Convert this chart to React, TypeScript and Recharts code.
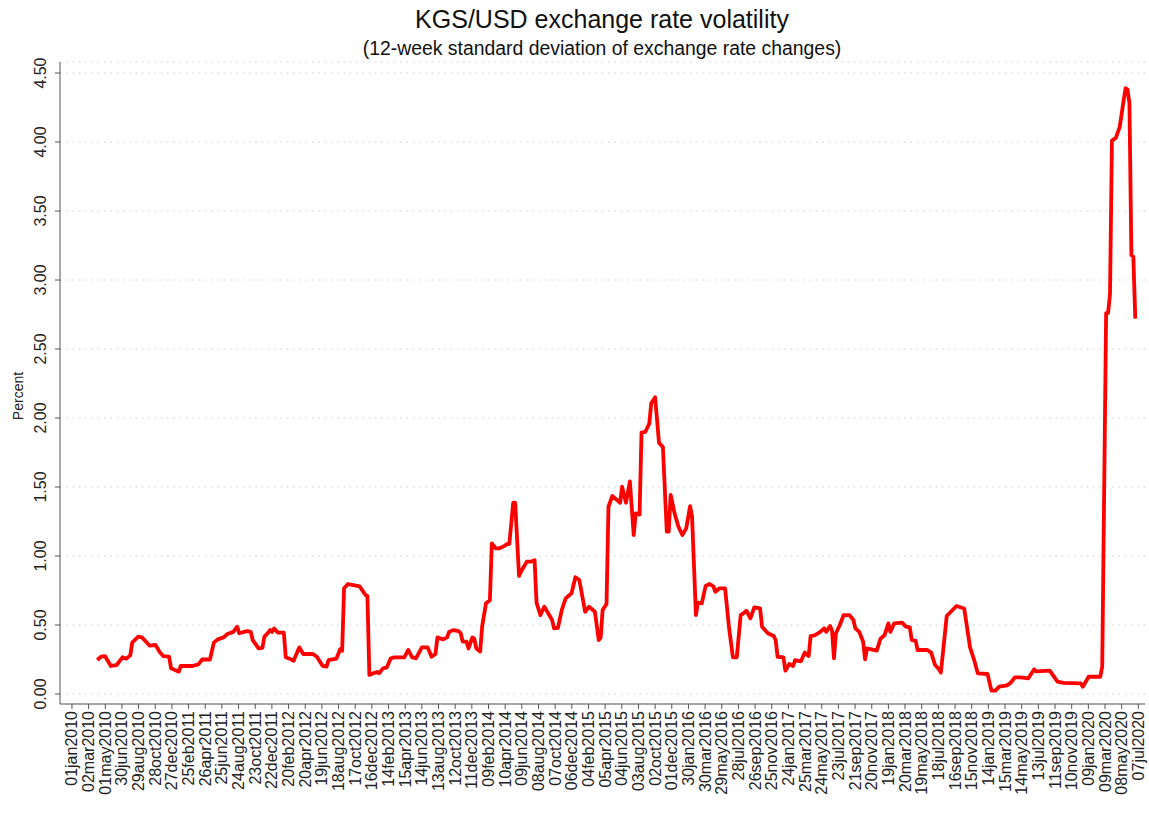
import { CartesianGrid, Line, LineChart, XAxis, YAxis } from 'recharts';

const W = 1149;
const H = 813;
const FONT = '"Liberation Sans", Arial, sans-serif';
const AXIS = '#555555';
const GRID = '#cfcfcf';
const RED = '#ff0000';

const TITLE = 'KGS/USD exchange rate volatility';
const SUBTITLE = '(12-week standard deviation of exchange rate changes)';
const Y_LABEL = 'Percent';

// observation dates, as weeks since 01jan2010
const weeks = [
  13, 15, 17, 20, 23, 26, 28, 30, 31, 34,
  36, 38, 40, 43, 45, 47, 50, 51, 55, 56,
  62, 65, 67, 71, 73, 75, 78, 80, 83, 85,
  86, 90, 92, 93, 96, 98, 99, 100, 102, 103,
  104, 106, 109, 110, 112, 114, 116, 117, 119, 124,
  126, 129, 131, 132, 136, 138, 139, 140, 142, 146,
  148, 151, 152, 153, 155, 157, 158, 160, 162, 164,
  166, 171, 173, 175, 177, 180, 183, 185, 187, 188,
  191, 193, 194, 196, 199, 200, 201, 203, 204, 206,
  207, 208, 210, 211, 213, 215, 216, 218, 220, 222,
  224, 225, 227, 228, 230, 231, 234, 236, 238, 239,
  241, 243, 245, 247, 248, 250, 252, 254, 257, 259,
  261, 264, 266, 269, 271, 272, 273, 275, 276, 278,
  280, 282, 283, 285, 287, 289, 290, 292, 293, 295,
  297, 298, 300, 302, 304, 306, 307, 308, 310, 312,
  314, 316, 318, 319, 321, 322, 324, 326, 328, 330,
  331, 333, 336, 338, 340, 342, 344, 345, 347, 349,
  351, 354, 355, 358, 361, 362, 363, 366, 367, 369,
  371, 372, 375, 377, 379, 380, 382, 385, 387, 388,
  390, 391, 392, 393, 395, 397, 400, 402, 403, 405,
  407, 408, 409, 414, 416, 418, 420, 421, 423, 427,
  429, 431, 432, 434, 435, 440, 442, 444, 446, 447,
  450, 453, 455, 459, 462, 464, 466, 471, 473, 475,
  477, 481, 483, 485, 488, 492, 495, 496, 503, 507,
  510, 519, 520, 523, 529, 530, 532, 533, 534, 535,
  537, 539, 541, 542, 543, 544, 545, 546, 547,
];

// 12-week standard deviation, percent
const volatility = [
  0.246, 0.27, 0.275, 0.203, 0.21, 0.266, 0.256, 0.28, 0.372, 0.415,
  0.41, 0.38, 0.35, 0.355, 0.307, 0.275, 0.27, 0.186, 0.162, 0.203,
  0.203, 0.215, 0.25, 0.25, 0.372, 0.396, 0.41, 0.435, 0.45, 0.488,
  0.44, 0.455, 0.45, 0.39, 0.33, 0.335, 0.415, 0.43, 0.463, 0.45,
  0.475, 0.445, 0.445, 0.266, 0.256, 0.24, 0.307, 0.338, 0.29, 0.29,
  0.27, 0.203, 0.198, 0.246, 0.256, 0.324, 0.314, 0.766, 0.797, 0.785,
  0.78, 0.717, 0.71, 0.138, 0.15, 0.16, 0.15, 0.186, 0.193, 0.259,
  0.266, 0.266, 0.319, 0.266, 0.259, 0.338, 0.338, 0.27, 0.29, 0.41,
  0.396, 0.41, 0.45, 0.463, 0.455, 0.44, 0.38, 0.38, 0.33, 0.41,
  0.40, 0.33, 0.307, 0.488, 0.657, 0.68, 1.092, 1.056, 1.056, 1.07,
  1.087, 1.087, 1.386, 1.386, 0.855, 0.886, 0.959, 0.959, 0.97, 0.662,
  0.572, 0.633, 0.585, 0.536, 0.476, 0.48, 0.609, 0.693, 0.73, 0.846,
  0.826, 0.596, 0.633, 0.596, 0.391, 0.41, 0.609, 0.652, 1.357, 1.435,
  1.41, 1.386, 1.502, 1.386, 1.54, 1.152, 1.309, 1.30, 1.894, 1.90,
  1.96, 2.106, 2.15, 1.82, 1.79, 1.176, 1.176, 1.442, 1.309, 1.212,
  1.152, 1.20, 1.362, 1.285, 0.572, 0.662, 0.657, 0.783, 0.797, 0.78,
  0.741, 0.765, 0.765, 0.483, 0.266, 0.266, 0.572, 0.58, 0.604, 0.548,
  0.628, 0.62, 0.488, 0.44, 0.42, 0.391, 0.27, 0.266, 0.169, 0.217,
  0.203, 0.246, 0.237, 0.30, 0.275, 0.42, 0.425, 0.451, 0.476, 0.45,
  0.493, 0.46, 0.259, 0.44, 0.50, 0.572, 0.572, 0.536, 0.476, 0.45,
  0.379, 0.251, 0.331, 0.314, 0.403, 0.425, 0.512, 0.45, 0.512, 0.517,
  0.488, 0.483, 0.391, 0.387, 0.319, 0.319, 0.30, 0.21, 0.179, 0.155,
  0.565, 0.609, 0.638, 0.62, 0.338, 0.251, 0.15, 0.145, 0.024, 0.024,
  0.053, 0.063, 0.082, 0.121, 0.121, 0.114, 0.179, 0.164, 0.169, 0.089,
  0.08, 0.077, 0.053, 0.125, 0.125, 0.198, 2.76, 2.76, 2.90, 4.01,
  4.03, 4.11, 4.30, 4.39, 4.38, 4.28, 3.18, 3.17, 2.72,
];

// one tick every 60 days from 01jan2010
const tickLabels = [
  '01jan2010', '02mar2010', '01may2010', '30jun2010', '29aug2010', '28oct2010', '27dec2010',
  '25feb2011', '26apr2011', '25jun2011', '24aug2011', '23oct2011', '22dec2011',
  '20feb2012', '20apr2012', '19jun2012', '18aug2012', '17oct2012', '16dec2012',
  '14feb2013', '15apr2013', '14jun2013', '13aug2013', '12oct2013', '11dec2013',
  '09feb2014', '10apr2014', '09jun2014', '08aug2014', '07oct2014', '06dec2014',
  '04feb2015', '05apr2015', '04jun2015', '03aug2015', '02oct2015', '01dec2015',
  '30jan2016', '30mar2016', '29may2016', '28jul2016', '26sep2016', '25nov2016',
  '24jan2017', '25mar2017', '24may2017', '23jul2017', '21sep2017', '20nov2017',
  '19jan2018', '20mar2018', '19may2018', '18jul2018', '16sep2018', '15nov2018',
  '14jan2019', '15mar2019', '14may2019', '13jul2019', '11sep2019', '10nov2019',
  '09jan2020', '09mar2020', '08may2020', '07jul2020',
];
const TICK_STEP_DAYS = 60;

const yTicks = [0, 0.5, 1, 1.5, 2, 2.5, 3, 3.5, 4, 4.5];

const data = weeks.map((w, i) => ({ day: w * 7, value: volatility[i] }));
const xTicks = tickLabels.map((_, i) => i * TICK_STEP_DAYS);

function XTick({ x, y, payload }: any) {
  const label = tickLabels[Math.round(payload.value / TICK_STEP_DAYS)];
  return (
    <text
      x={x}
      y={y}
      transform={`rotate(-90 ${x} ${y})`}
      textAnchor="end"
      dominantBaseline="central"
      fontSize={16}
      fontFamily={FONT}
      fill="#222"
    >
      {label}
    </text>
  );
}

function YTick({ x, y, payload }: any) {
  const tx = x - 12;
  return (
    <text
      x={tx}
      y={y}
      transform={`rotate(-90 ${tx} ${y})`}
      textAnchor="middle"
      dominantBaseline="central"
      fontSize={16}
      fontFamily={FONT}
      fill="#222"
    >
      {payload.value.toFixed(2)}
    </text>
  );
}

export default function App() {
  return (
    <div style={{ position: 'absolute', left: 0, top: 0, width: W, height: H, background: '#fff' }}>
      <LineChart
        width={W}
        height={H}
        data={data}
        margin={{ top: 62, right: 4, bottom: 0, left: 0 }}
      >
        <CartesianGrid
          vertical={false}
          stroke={GRID}
          strokeDasharray="1.5 4.8"
        />
        <XAxis
          dataKey="day"
          type="number"
          domain={[-43, 3864]}
          ticks={xTicks}
          interval={0}
          height={109}
          tick={<XTick />}
          tickSize={5}
          tickMargin={2}
          stroke={AXIS}
          allowDataOverflow
        />
        <YAxis
          type="number"
          domain={[-0.0725, 4.58]}
          ticks={yTicks}
          interval={0}
          width={60}
          tick={<YTick />}
          tickSize={5}
          tickMargin={2}
          stroke={AXIS}
          allowDataOverflow
        />
        <Line
          type="linear"
          dataKey="value"
          stroke={RED}
          strokeWidth={3.8}
          strokeLinejoin="round"
          dot={false}
          activeDot={false}
          isAnimationActive={false}
        />
      </LineChart>
      <svg
        width={W}
        height={H}
        style={{ position: 'absolute', left: 0, top: 0, pointerEvents: 'none' }}
      >
        <text x={602} y={28} textAnchor="middle" fontSize={25} fontFamily={FONT} fill="#111">
          {TITLE}
        </text>
        <text x={602} y={55} textAnchor="middle" fontSize={19.4} fontFamily={FONT} fill="#111">
          {SUBTITLE}
        </text>
        <text
          x={18}
          y={396}
          transform="rotate(-90 18 396)"
          textAnchor="middle"
          dominantBaseline="central"
          fontSize={14}
          fontFamily={FONT}
          fill="#222"
        >
          {Y_LABEL}
        </text>
      </svg>
    </div>
  );
}
